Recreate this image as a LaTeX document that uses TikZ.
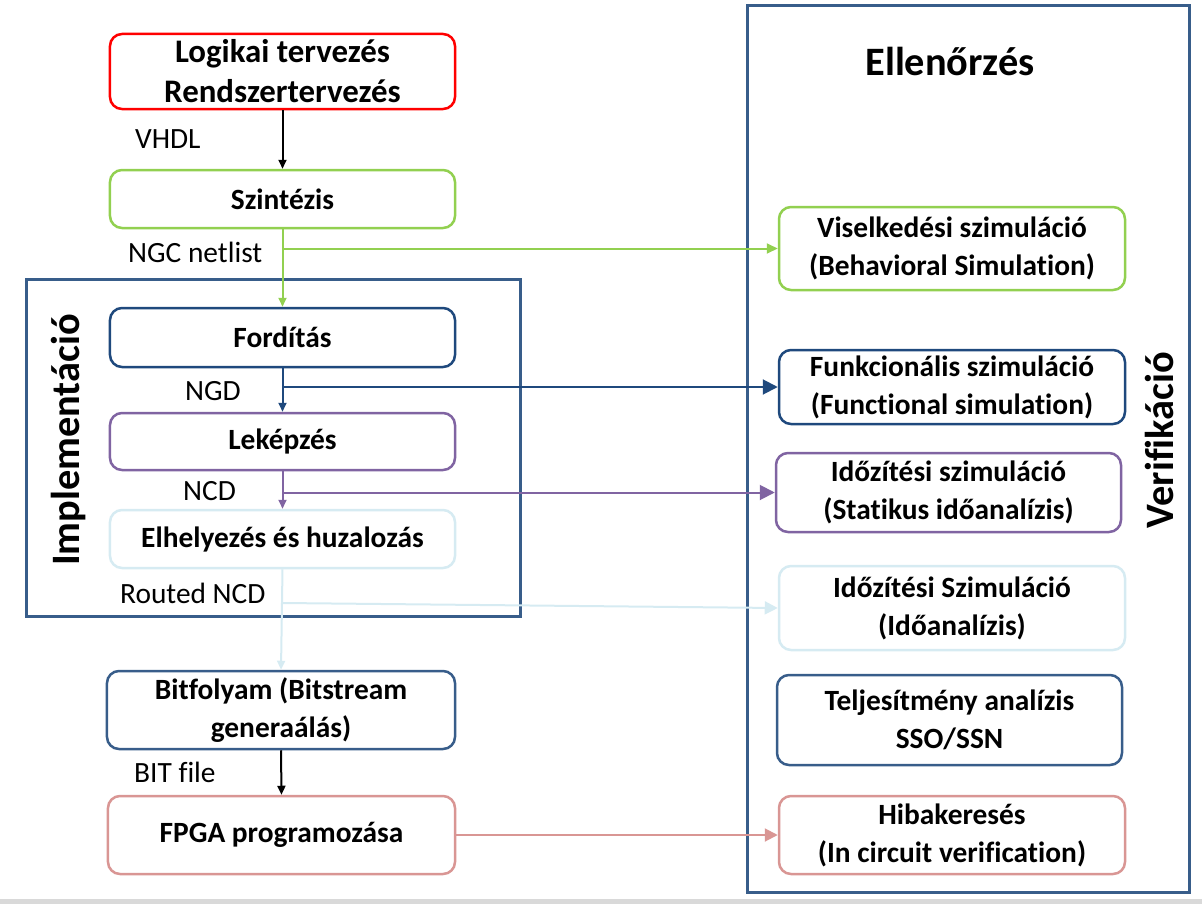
\documentclass[tikz,border=0pt]{standalone}
\usepackage{fontspec}
\setmainfont{Carlito}[Ligatures={NoCommon}]
\usetikzlibrary{arrows.meta}
\definecolor{cred}{HTML}{FF0000}
\definecolor{cgreen}{HTML}{92D050}
\definecolor{cnavy}{HTML}{1F497D}
\definecolor{cblue}{HTML}{385D8A}
\definecolor{cpurple}{HTML}{8064A2}
\definecolor{clight}{HTML}{D6EBF2}
\definecolor{cpink}{HTML}{D99694}
\definecolor{cgray}{HTML}{D9D9D9}
\tikzset{
  box/.style={draw, rounded corners=12bp, line width=2.5bp, fill=white, align=center,
    minimum width=345bp, font=\fontsize{29.5}{38}\selectfont\bfseries, inner sep=0pt},
  lbl/.style={anchor=west, font=\fontsize{29.5}{34}\selectfont, inner sep=0pt},
  conn/.style={line width=2bp, -{Triangle[length=9bp,width=8bp]}},
  bigconn/.style={line width=2bp, -{Triangle[length=15bp,width=15bp]}},
  frame/.style={draw=cblue, line width=3bp},
  title/.style={font=\fontsize{40.5}{46}\selectfont\bfseries, inner sep=0pt}
}
\begin{document}
\begin{tikzpicture}[x=1bp,y=-1bp]
\useasboundingbox (0,0) rectangle (1202,904);
\fill[cgray] (0,899) rectangle (1202,904);
% frames
\draw[frame] (26,279) rectangle (520,616);
\draw[frame] (747,5) rectangle (1189,892);
\node[title] (ell) at (950,61) {Ellenőrzés};
\node[title, rotate=90] (impl) at (69,440) {Implementáció};
\node[title, rotate=90] (verif) at (1159,440) {Verifikáció};
% left column
\node[box, draw=cred, minimum height=75bp, font=\fontsize{33}{40}\selectfont\bfseries] (logic) at (282.5,71.5) {Logikai tervezés\\Rendszertervezés};
\node[box, draw=cgreen, minimum height=58bp] (szint) at (282.5,199) {Szintézis};
\node[box, draw=cnavy, minimum height=59bp] (ford) at (282.5,337.5) {Fordítás};
\node[box, draw=cpurple, minimum height=57bp] (lek) at (282.5,441.5) {Leképzés};
\node[box, draw=clight, minimum height=58bp] (elh) at (282.5,539) {Elhelyezés és huzalozás};
\node[box, draw=cblue, minimum width=348bp, minimum height=78bp] (bit) at (281,710) {Bitfolyam (Bitstream\\generaálás)};
\node[box, draw=cpink, minimum width=347bp, minimum height=78bp] (fpga) at (281.5,835) {FPGA programozása};
% right column
\node[box, draw=cgreen, minimum width=346bp, minimum height=83bp] (vis) at (952,248.5) {Viselkedési szimuláció\\(Behavioral Simulation)};
\node[box, draw=cnavy, minimum width=346bp, minimum height=74bp] (fun) at (952,387) {Funkcionális szimuláció\\(Functional simulation)};
\node[box, draw=cpurple, minimum height=79bp] (idoz) at (948.5,492.5) {Időzítési szimuláció\\(Statikus időanalízis)};
\node[box, draw=clight, minimum width=346bp, minimum height=84bp] (idoa) at (952,608) {Időzítési Szimuláció\\(Időanalízis)};
\node[box, draw=cblue, minimum height=90bp] (telj) at (949.5,720) {Teljesítmény analízis\\SSO/SSN};
\node[box, draw=cpink, minimum width=346bp, minimum height=78bp] (hiba) at (952,835) {Hibakeresés\\(In circuit verification)};
% labels
\node[lbl] (l1) at (135,139) {VHDL};
\node[lbl] (l2) at (128,252) {NGC netlist};
\node[lbl] (l3) at (185,391) {NGD};
\node[lbl] (l4) at (183,491) {NCD};
\node[lbl] (l5) at (120,593) {Routed NCD};
\node[lbl] (l6) at (134,772) {BIT file};
% connectors
\draw[conn, black] (logic.south) -- (szint.north);
\draw[conn, cgreen] (szint.south) -- (ford.north);
\draw[conn, cgreen, -{Triangle[length=11bp,width=10bp]}] (szint.south |- vis.west) -- (vis.west);
\draw[conn, cnavy] (ford.south) -- (lek.north);
\draw[bigconn, cnavy] (ford.south |- fun.west) -- (fun.west);
\draw[conn, cpurple] (lek.south) -- (elh.north);
\draw[bigconn, cpurple] (lek.south |- idoz.west) -- (idoz.west);
\draw[conn, clight] (elh.south) -- (bit.north);
\draw[conn, clight, -{Triangle[length=13bp,width=13bp]}] (elh.south |- 0,603) -- (idoa.west);
\draw[conn, black] (bit.south) -- (fpga.north);
\draw[conn, cpink, -{Triangle[length=13bp,width=13bp]}] (fpga.east) -- (hiba.west);
\end{tikzpicture}
\end{document}
